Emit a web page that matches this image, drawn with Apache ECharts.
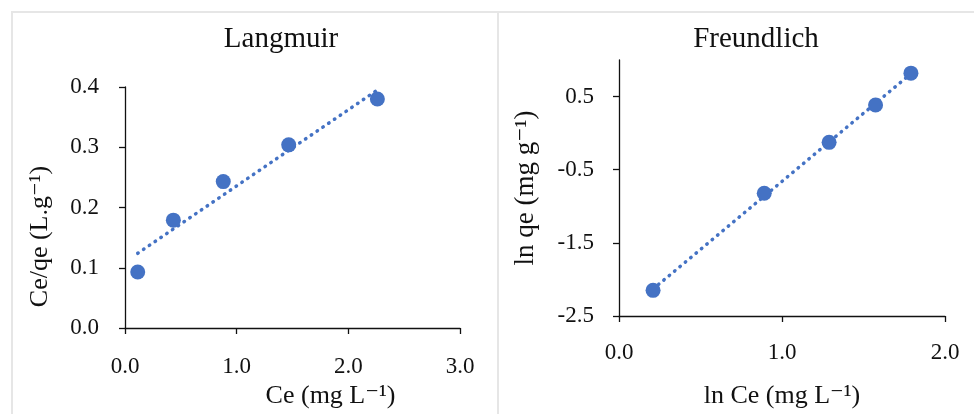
<!DOCTYPE html>
<html>
<head>
<meta charset="utf-8">
<script src="https://cdn.jsdelivr.net/npm/echarts@6/dist/echarts.min.js"></script>
<style>
  html, body { margin: 0; padding: 0; background: #fff; }
  #chart { width: 974px; height: 414px; }
</style>
</head>
<body>
<div id="chart"></div>
<script>
  // Langmuir: Ce vs Ce/qe
  var langCe = [0.114, 0.433, 0.88, 1.466, 2.26];
  var langCeQe = [0.093, 0.179, 0.243, 0.304, 0.380];
  var langTrend = [[0.114, 0.124], [2.26, 0.395]];

  // Freundlich: ln Ce vs ln qe
  var freLnCe = [0.209, 0.891, 1.289, 1.574, 1.791];
  var freLnQe = [-2.149, -0.822, -0.126, 0.384, 0.820];
  var freTrend = [[0.209, -2.131], [1.791, 0.813]];
  var freYTicks = [-2.5, -1.5, -0.5, 0.5];

  var blue = '#4472C4';
  var font = '"Liberation Serif", "DejaVu Serif", serif';

  function pairs(xs, ys) {
    return xs.map(function (x, i) { return [x, ys[i]]; });
  }

  function axisBase() {
    return {
      type: 'value',
      axisLine: { show: true, onZero: false, lineStyle: { color: '#111', width: 1.3 } },
      axisTick: { show: true, length: 6, lineStyle: { color: '#111', width: 1.3 } },
      splitLine: { show: false },
      axisLabel: {
        color: '#111',
        fontFamily: font,
        fontSize: 23,
        formatter: function (v) { return v.toFixed(1); }
      },
      nameTextStyle: { color: '#111', fontFamily: font, fontSize: 26 }
    };
  }

  var xL = axisBase();
  Object.assign(xL, {
    gridIndex: 0, min: 0, max: 3, interval: 1,
    name: 'Ce (mg L⁻¹)', nameLocation: 'middle', nameGap: 54
  });
  xL.axisLabel.margin = 27;
  xL.nameTextStyle.padding = [0, 0, 0, 76];

  var yL = axisBase();
  Object.assign(yL, {
    gridIndex: 0, min: 0, max: 0.4, interval: 0.1,
    name: 'Ce/qe (L.g⁻¹)', nameLocation: 'middle', nameGap: 72
  });
  yL.axisLabel.margin = 26;
  yL.nameTextStyle.padding = [0, 58, 0, 0];

  var xR = axisBase();
  Object.assign(xR, {
    gridIndex: 1, min: 0, max: 2, interval: 1,
    name: 'ln Ce (mg L⁻¹)', nameLocation: 'middle', nameGap: 67
  });
  xR.axisLabel.margin = 25;

  var yR = axisBase();
  Object.assign(yR, {
    gridIndex: 1, min: -2.5, max: 1, interval: 1,
    name: 'ln qe (mg g⁻¹)', nameLocation: 'middle', nameGap: 80
  });
  yR.axisLabel.margin = 25;
  yR.axisLabel.customValues = freYTicks;
  yR.axisTick.customValues = freYTicks;
  yR.nameTextStyle.fontSize = 27;

  var trendStyle = { color: blue, width: 3.5, type: [0.5, 6.5], cap: 'round' };
  var titleStyle = { fontFamily: font, fontSize: 29, fontWeight: 'normal', color: '#111' };

  var chart = echarts.init(document.getElementById('chart'));
  chart.setOption({
    animation: false,
    title: [
      { text: 'Langmuir', left: 276, top: 20, textAlign: 'center', textStyle: titleStyle },
      { text: 'Freundlich', left: 751, top: 20, textAlign: 'center', textStyle: titleStyle }
    ],
    graphic: [
      { type: 'line', shape: { x1: 11, y1: 12, x2: 974, y2: 12 }, style: { stroke: '#e6e6e6', lineWidth: 2 } },
      { type: 'line', shape: { x1: 12, y1: 12, x2: 12, y2: 414 }, style: { stroke: '#e6e6e6', lineWidth: 2 } },
      { type: 'line', shape: { x1: 498, y1: 12, x2: 498, y2: 414 }, style: { stroke: '#e6e6e6', lineWidth: 2 } }
    ],
    grid: [
      { left: 125, top: 87, right: 514, bottom: 86 },
      { left: 619, top: 60, right: 29, bottom: 98 }
    ],
    xAxis: [xL, xR],
    yAxis: [yL, yR],
    series: [
      { type: 'line', xAxisIndex: 0, yAxisIndex: 0, data: langTrend, showSymbol: false,
        lineStyle: trendStyle, z: 2 },
      { type: 'scatter', xAxisIndex: 0, yAxisIndex: 0, data: pairs(langCe, langCeQe),
        symbolSize: 15, itemStyle: { color: blue, opacity: 1 }, z: 3 },
      { type: 'line', xAxisIndex: 1, yAxisIndex: 1, data: freTrend, showSymbol: false,
        lineStyle: trendStyle, z: 2 },
      { type: 'scatter', xAxisIndex: 1, yAxisIndex: 1, data: pairs(freLnCe, freLnQe),
        symbolSize: 15, itemStyle: { color: blue, opacity: 1 }, z: 3 }
    ]
  });
</script>
</body>
</html>
